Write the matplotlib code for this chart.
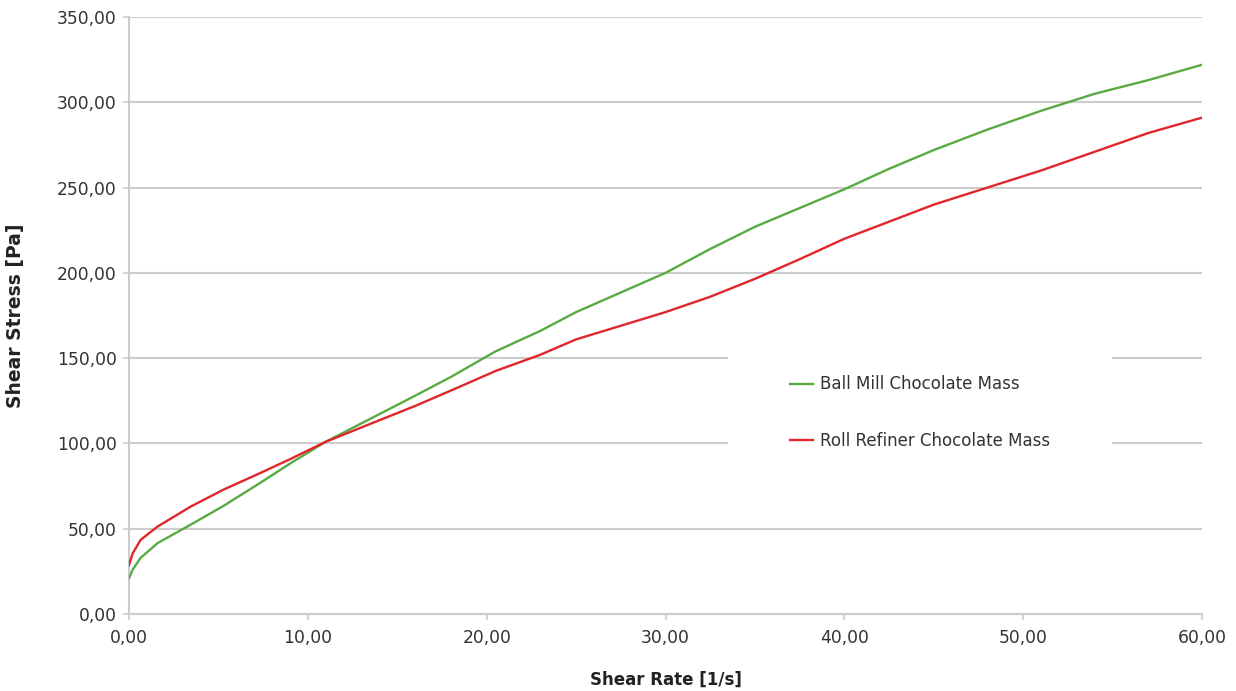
import numpy as np
import matplotlib.pyplot as plt
from matplotlib.ticker import FuncFormatter

# shear rate [1/s] sampled along the curves
rate = [0.0, 0.2, 0.65, 1.6, 3.45, 5.3, 7.2, 9.05, 11.0, 13.5, 16.0, 18.0,
        20.5, 23.0, 25.0, 27.5, 30.0, 32.5, 35.0, 37.5, 40.0, 42.5, 45.0,
        48.0, 51.0, 54.0, 57.0, 60.0]
ball_mill = [21.0, 26.0, 33.0, 41.6, 52.4, 63.5, 76.0, 88.5, 101.0, 114.5,
             128.0, 139.0, 154.0, 166.0, 177.0, 188.5, 200.0, 214.0, 227.0,
             238.0, 249.0, 261.0, 272.0, 284.0, 295.0, 305.0, 313.0, 322.0]
roll_refiner = [28.7, 35.5, 43.5, 51.3, 63.0, 73.0, 82.0, 91.0, 101.0, 111.5,
                122.0, 131.0, 142.5, 152.0, 161.0, 169.0, 177.0, 186.0, 196.5,
                208.0, 220.0, 230.0, 240.0, 250.0, 260.0, 271.0, 282.0, 291.0]

series_names = ['Ball Mill Chocolate Mass', 'Roll Refiner Chocolate Mass']
series_colors = ['#5aaa44', '#e0262b']

fig = plt.figure(figsize=(12.36, 6.91), dpi=100)
ax = fig.add_axes([0.1044, 0.1114, 0.8681, 0.864])

ax.plot(rate, ball_mill, color=series_colors[0], lw=1.7, label=series_names[0], zorder=3)
ax.plot(rate, roll_refiner, color=series_colors[1], lw=1.7, label=series_names[1], zorder=3)

ax.set_xlim(0, 60)
ax.set_ylim(0, 350)
ax.set_xticks(np.arange(0, 61, 10))
ax.set_yticks(np.arange(0, 351, 50))

fmt = FuncFormatter(lambda v, p: ('%.2f' % v).replace('.', ','))
ax.xaxis.set_major_formatter(fmt)
ax.yaxis.set_major_formatter(fmt)

ax.grid(axis='y', color='#cccccc', lw=1.5, zorder=0)
ax.set_axisbelow(True)
for s in ['top', 'right']:
    ax.spines[s].set_visible(False)
for s in ['left', 'bottom']:
    ax.spines[s].set_color('#cccccc')
    ax.spines[s].set_linewidth(1.5)

ax.tick_params(axis='both', direction='out', length=4, width=1.2, color='#cccccc',
               labelsize=12.3, labelcolor='#333333')
ax.tick_params(axis='x', pad=7)
ax.tick_params(axis='y', pad=5)

ax.set_xlabel('Shear Rate [1/s]', fontsize=12, fontweight='bold', color='#222222')
ax.set_ylabel('Shear Stress [Pa]', fontsize=13.5, fontweight='bold', color='#222222')
ax.xaxis.set_label_coords(0.5, -0.0955)
ax.yaxis.set_label_coords(-0.097, 0.5)

leg = ax.legend(loc='center', bbox_to_anchor=(0.737, 0.3375), frameon=True,
                fancybox=False, framealpha=1, facecolor='white', edgecolor='white',
                fontsize=12, borderpad=3.7, labelspacing=2.3, handlelength=1.4,
                handletextpad=0.42)
leg.get_frame().set_linewidth(0)
for t in leg.get_texts():
    t.set_color('#333333')

fig.savefig('out.png', dpi=100)
